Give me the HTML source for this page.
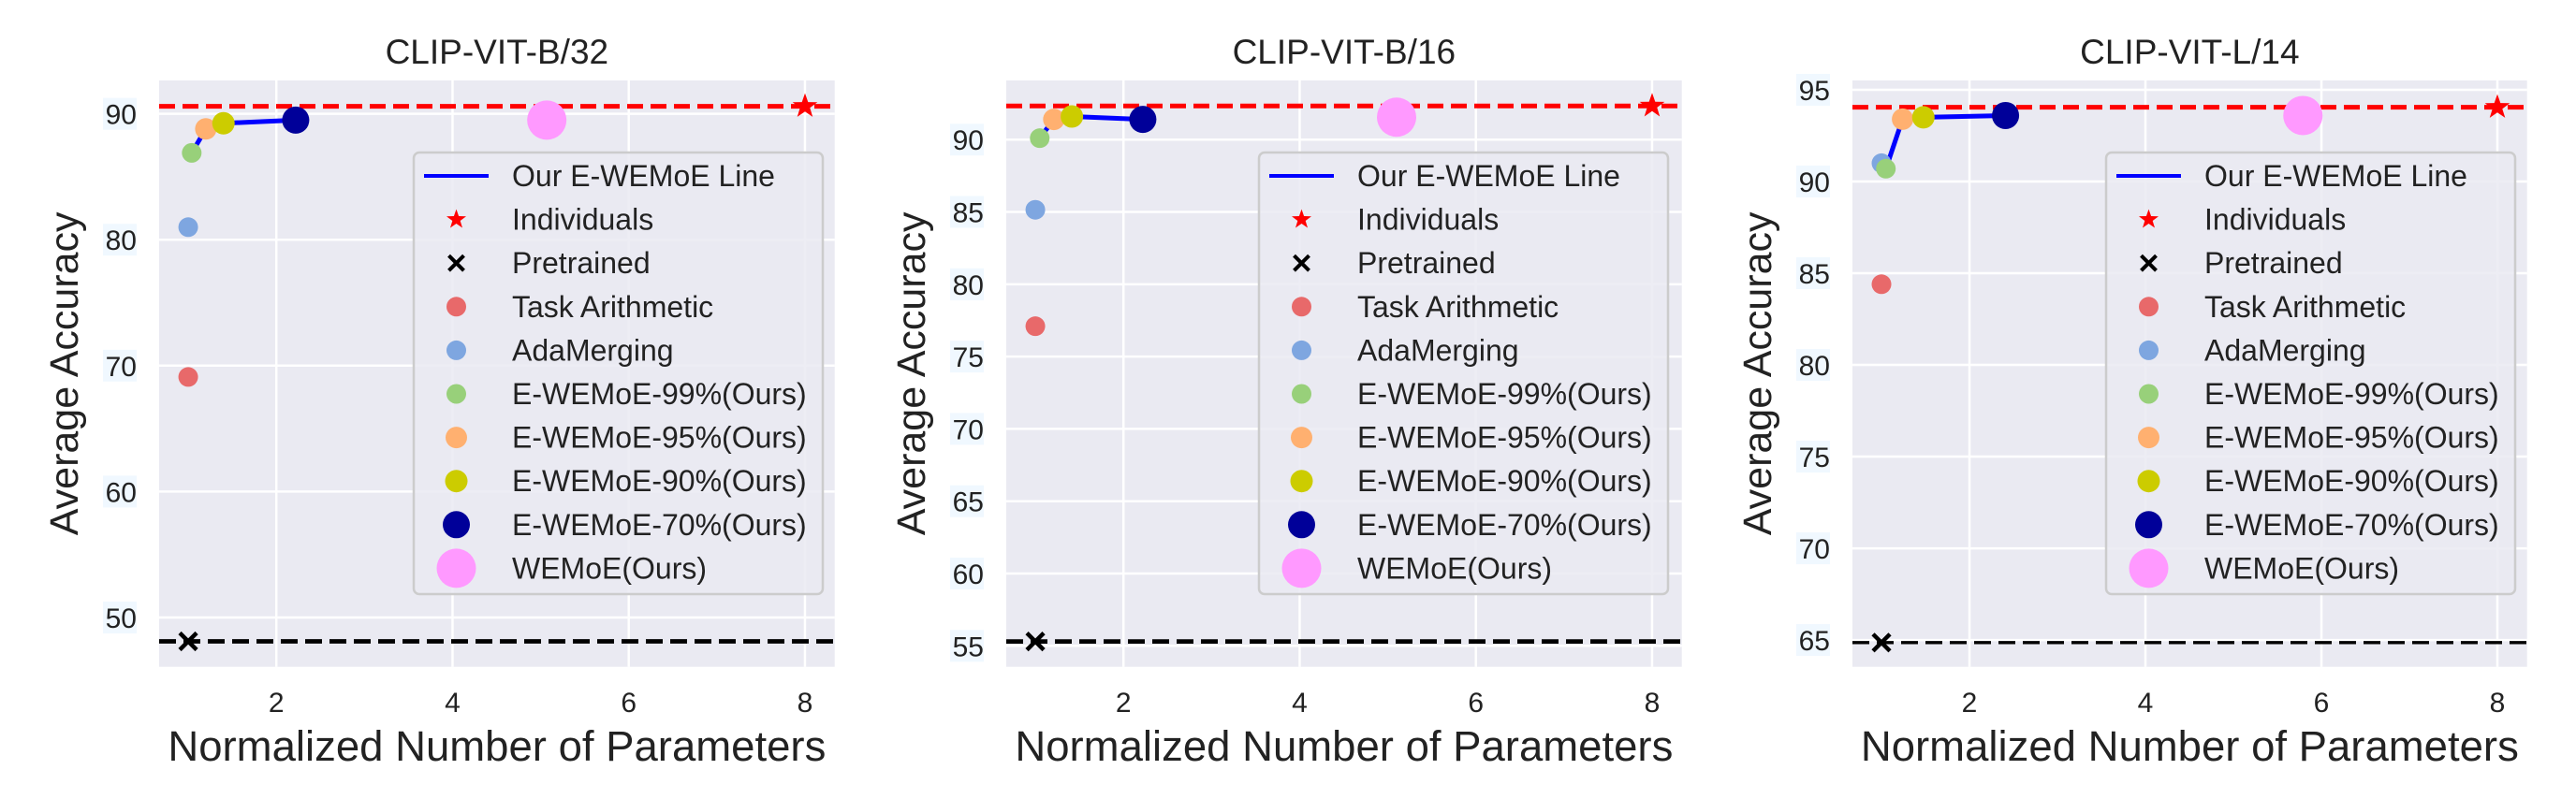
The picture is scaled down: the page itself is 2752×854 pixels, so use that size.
<!DOCTYPE html>
<html><head><meta charset="utf-8"><style>
html,body{margin:0;padding:0;background:#fff;}
svg{display:block;font-family:"Liberation Sans",Arial,sans-serif;}
</style></head><body>
<svg id="fig" xmlns="http://www.w3.org/2000/svg" width="2752" height="854" viewBox="0 0 2752 854"></svg>
<script>
const panelTitles = ["CLIP-VIT-B/32", "CLIP-VIT-B/16", "CLIP-VIT-L/14"];
const xTicks = [2, 4, 6, 8];
const yTicks = [[50, 60, 70, 80, 90], [55, 60, 65, 70, 75, 80, 85, 90], [65, 70, 75, 80, 85, 90, 95]];
const xDomain = [0.67, 8.337];
const yDomains = [[46.08, 92.65], [53.55, 94.09], [63.54, 95.51]];
const baseX = [1.0, 1.0, 1.0];
const taskArith = [69.1, 77.1, 84.4];
const adaMerging = [81.0, 85.15, 91.0];
const ew99X = [1.04, 1.05, 1.05];
const ew99 = [86.9, 90.1, 90.7];
const ew95X = [1.2, 1.21, 1.24];
const ew95 = [88.8, 91.4, 93.4];
const ew90X = [1.4, 1.415, 1.476];
const ew90 = [89.25, 91.6, 93.5];
const ew70X = [2.22, 2.22, 2.41];
const ew70 = [89.5, 91.4, 93.6];
const wemoeX = [5.07, 5.1, 5.79];
const wemoe = [89.5, 91.55, 93.6];
const indivX = [8, 8, 8];
const individuals = [90.6, 92.33, 94.05];
const pretrained = [48.1, 55.3, 64.86];
const legendLabels = ["Our E-WEMoE Line","Individuals","Pretrained","Task Arithmetic","AdaMerging","E-WEMoE-99%(Ours)","E-WEMoE-95%(Ours)","E-WEMoE-90%(Ours)","E-WEMoE-70%(Ours)","WEMoE(Ours)"];

const NS = "http://www.w3.org/2000/svg";
const svg = document.getElementById("fig");
const lefts = [170, 1075, 1979], rights = [891.7, 1796.7, 2699.7];
const TOP = 86, BOT = 712.7;
const legLefts = [442, 1345, 2250];
const blackW = [4.8, 4.8, 3.4];

function mk(tag, attrs, parent) {
  const e = document.createElementNS(NS, tag);
  for (const k in attrs) e.setAttribute(k, attrs[k]);
  (parent || svg).appendChild(e);
  return e;
}
function starPath(cx, cy, R) {
  let d = "";
  for (let i = 0; i < 10; i++) {
    const r = i % 2 ? R * 0.4 : R;
    const a = -Math.PI / 2 + i * Math.PI / 5;
    d += (i ? "L" : "M") + (cx + r * Math.cos(a)).toFixed(1) + "," + (cy + r * Math.sin(a)).toFixed(1);
  }
  return d + "Z";
}
function xMark(g, cx, cy, s, w) {
  mk("path", {d: `M${cx-s},${cy-s}L${cx+s},${cy+s}M${cx-s},${cy+s}L${cx+s},${cy-s}`, stroke: "#000", "stroke-width": w, fill: "none"}, g);
}

for (let p = 0; p < 3; p++) {
  const L = lefts[p], R = rights[p];
  const sx = v => L + (v - xDomain[0]) / (xDomain[1] - xDomain[0]) * (R - L);
  const sy = v => BOT - (v - yDomains[p][0]) / (yDomains[p][1] - yDomains[p][0]) * (BOT - TOP);
  const g = mk("g", {});
  
  
  const bg = mk("rect", {x: L, y: TOP, width: R - L, height: BOT - TOP, fill: "#eaeaf2"}, g);
  
  
  const cx = (L + R) / 2;
  const t = mk("text", {x: cx, y: 68, "text-anchor": "middle", "font-size": 37, fill: "#222"}, g);
  t.textContent = panelTitles[p];
  
  
  for (const v of xTicks) {
    const x = sx(v);
    mk("line", {x1: x, x2: x, y1: TOP, y2: BOT, stroke: "#fff", "stroke-width": 2.5}, g);
    const tl = mk("text", {x: x, y: 761, "text-anchor": "middle", "font-size": 30, fill: "#222"}, g);
    tl.textContent = v;
    
    
  }
  for (const v of yTicks[p]) {
    const y = sy(v);
    mk("line", {x1: L, x2: R, y1: y, y2: y, stroke: "#fff", "stroke-width": 2.5}, g);
    mk("rect", {x: L - 60, y: y - 17, width: 36, height: 34, fill: "#f0f8ff"}, g);
    const tl = mk("text", {x: L - 24, y: y + 11, "text-anchor": "end", "font-size": 30, fill: "#222"}, g);
    tl.textContent = v;
    
    
  }
  const yl = mk("text", {x: 0, y: 0, transform: `translate(${L - 87},${(TOP + BOT) / 2}) rotate(-90)`, "text-anchor": "middle", "font-size": 43, fill: "#222"}, g);
  yl.textContent = "Average Accuracy";
  
  
  const xl = mk("text", {x: cx, y: 813, "text-anchor": "middle", "font-size": 45.5, fill: "#222"}, g);
  xl.textContent = "Normalized Number of Parameters";
  
  
  const rl = mk("line", {x1: L, x2: R, y1: sy(individuals[p]), y2: sy(individuals[p]), stroke: "#ff0000", "stroke-width": 5, "stroke-dasharray": "17 8"}, g);
  
  
  const bl = mk("line", {x1: L, x2: R, y1: sy(pretrained[p]), y2: sy(pretrained[p]), stroke: "#000", "stroke-width": blackW[p], "stroke-dasharray": "18 8"}, g);
  
  
  const lx = [ew99X[p], ew95X[p], ew90X[p], ew70X[p]], ly = [ew99[p], ew95[p], ew90[p], ew70[p]];
  const pl = mk("polyline", {points: lx.map((v, i) => sx(v) + "," + sy(ly[i])).join(" "), fill: "none", stroke: "#0000ff", "stroke-width": 5}, g);
  
  
  const pts = [
    ["task-arithmetic-point", baseX[p], taskArith[p], 10.5, "#e8696a"],
    ["adamerging-point", baseX[p], adaMerging[p], 10.5, "#7ea6e0"],
    ["e-wemoe-99-point", ew99X[p], ew99[p], 10.5, "#98d07a"],
    ["e-wemoe-95-point", ew95X[p], ew95[p], 11.5, "#ffb070"],
    ["e-wemoe-90-point", ew90X[p], ew90[p], 12, "#cccc00"],
    ["e-wemoe-70-point", ew70X[p], ew70[p], 14.5, "#000099"],
    ["wemoe-point", wemoeX[p], wemoe[p], 21, "#ff99ff"]];
  for (const q of pts) {
    const c = mk("circle", {cx: sx(q[1]), cy: sy(q[2]), r: q[3], fill: q[4]}, g);
    
    
  }
  const st = mk("path", {d: starPath(sx(indivX[p]), sy(individuals[p]), 14), fill: "#ff0000"}, g);
  
  
  xMark(g, sx(baseX[p]), sy(pretrained[p]), 9, 4.5);
  const LL = legLefts[p], LT = 163;
  const lg = mk("g", {}, g);
  
  
  mk("rect", {x: LL, y: LT, width: 437, height: 472, rx: 6, fill: "#eaeaf2", "fill-opacity": 0.85, stroke: "#cccccc", "stroke-width": 2.5}, lg);
  const mx = LL + 45.5;
  const styles = [null, null, null, [10.5, "#e8696a"], [10.5, "#7ea6e0"], [10.5, "#98d07a"], [11.5, "#ffb070"], [12, "#cccc00"], [14.5, "#000099"], [21, "#ff99ff"]];
  for (let i = 0; i < legendLabels.length; i++) {
    const y = 188 + i * 46.6;
    const e = mk("g", {}, lg);
    
    
    if (i === 0) mk("line", {x1: LL + 11, x2: LL + 80, y1: y, y2: y, stroke: "#0000ff", "stroke-width": 4}, e);
    else if (i === 1) mk("path", {d: starPath(mx, y, 11), fill: "#ff0000"}, e);
    else if (i === 2) xMark(e, mx, y, 8, 4);
    else mk("circle", {cx: mx, cy: y, r: styles[i][0], fill: styles[i][1]}, e);
    const tx = mk("text", {x: LL + 105, y: y + 11, "font-size": 32, fill: "#222"}, e);
    tx.textContent = legendLabels[i];
  }
}
</script>
</body></html>
